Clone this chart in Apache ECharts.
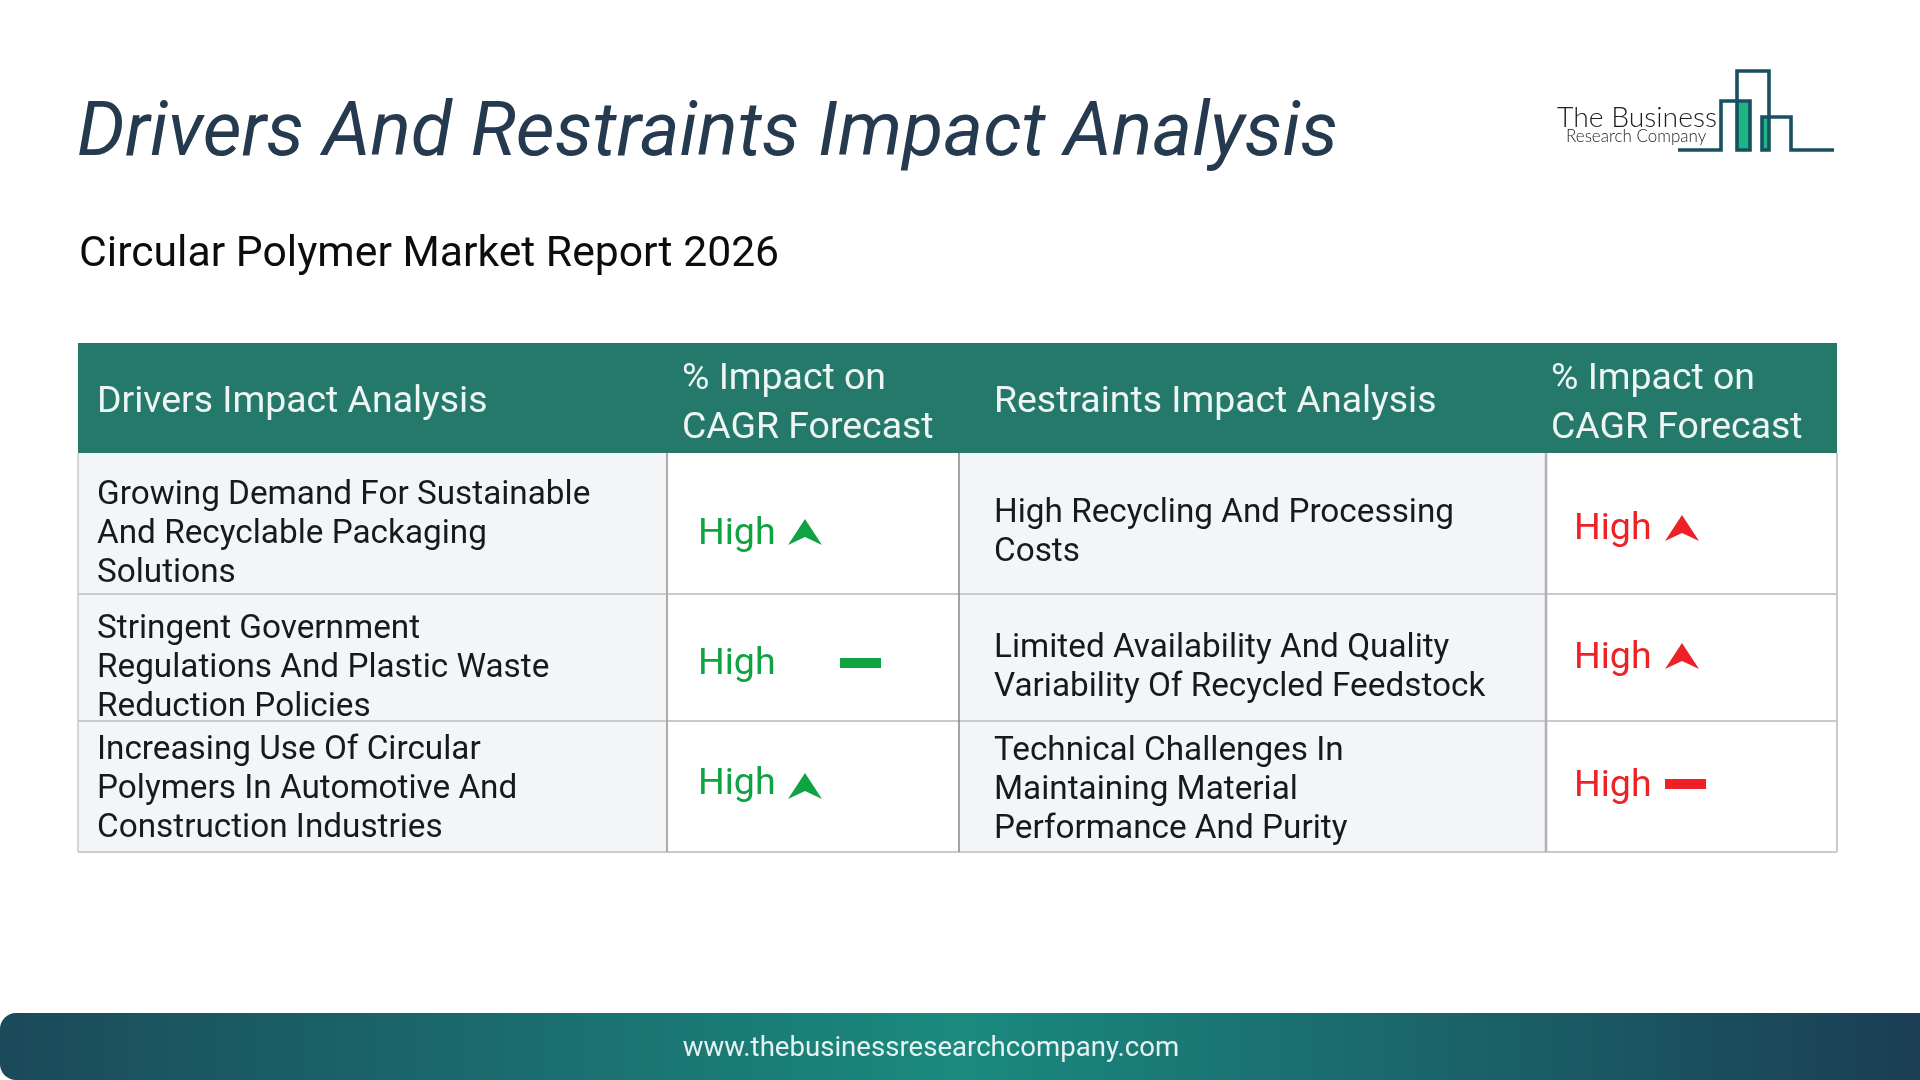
<!DOCTYPE html>
<html>
<head>
<meta charset="utf-8">
<title>Drivers And Restraints Impact Analysis</title>
<script src="https://cdn.jsdelivr.net/npm/echarts@6/dist/echarts.min.js"></script>
<style>
  html, body { margin: 0; padding: 0; background: #fff; }
  #main { width: 1920px; height: 1080px; }
</style>
</head>
<body>
<div id="main"></div>
<script>
var chartTitle = 'Drivers And Restraints Impact Analysis';
var chartSubtitle = 'Circular Polymer Market Report 2026';
var footerText = 'www.thebusinessresearchcompany.com';

var headers = ['Drivers Impact Analysis', '% Impact on\nCAGR Forecast', 'Restraints Impact Analysis', '% Impact on\nCAGR Forecast'];
var drivers = [
    'Growing Demand For Sustainable\nAnd Recyclable Packaging\nSolutions',
    'Stringent Government\nRegulations And Plastic Waste\nReduction Policies',
    'Increasing Use Of Circular\nPolymers In Automotive And\nConstruction Industries'
];
var driverImpact = ['High', 'High', 'High'];
var driverTrend = ['up', 'flat', 'up'];
var restraints = [
    'High Recycling And Processing\nCosts',
    'Limited Availability And Quality\nVariability Of Recycled Feedstock',
    'Technical Challenges In\nMaintaining Material\nPerformance And Purity'
];
var restraintImpact = ['High', 'High', 'High'];
var restraintTrend = ['up', 'up', 'flat'];

var colX = [78, 667, 959, 1546, 1837];
var rowY = [343, 453, 594, 721, 852];
var FONT = 'Roboto';
var GREEN = '#0fa341', RED = '#ee2127', GREY = '#c9cacc';

var els = [];

function rect(x, y, w, h, fill, r) {
    els.push({ type: 'rect', shape: { x: x, y: y, width: w, height: h, r: r || 0 }, style: { fill: fill }, silent: true });
}
function text(str, x, y, size, fill, extra) {
    var style = { text: str, x: x, y: y, fill: fill, fontFamily: FONT, fontSize: size, verticalAlign: 'middle', align: 'left' };
    for (var k in extra) style[k] = extra[k];
    els.push({ type: 'text', style: style, silent: true });
}
function line(x1, y1, x2, y2, color, w) {
    els.push({ type: 'line', shape: { x1: x1, y1: y1, x2: x2, y2: y2 }, style: { stroke: color, lineWidth: w }, silent: true });
}

// trend marks: notched arrow or flat dash
function trendMark(kind, x, y, color, dashX) {
    if (kind === 'up') {
        els.push({
            type: 'polygon',
            shape: { points: [[x, y + 13], [x + 17, y - 13], [x + 34, y + 13], [x + 17, y + 5]] },
            style: { fill: color }, silent: true
        });
    } else {
        rect(dashX, y - 5, 41, 10, color);
    }
}

// cell backgrounds
rect(colX[0], rowY[1], colX[1] - colX[0], rowY[4] - rowY[1], '#f3f5f7');
rect(colX[2], rowY[1], colX[3] - colX[2], rowY[4] - rowY[1], '#f3f5f7');

// grid lines
[2, 3, 4].forEach(function (i) { line(colX[0], rowY[i], colX[4], rowY[i], GREY, 2); });
line(colX[0], rowY[1], colX[0], rowY[4], GREY, 1.5);
line(colX[1], rowY[1], colX[1], rowY[4], '#a9abae', 2);
line(colX[2], rowY[1], colX[2], rowY[4], '#85878a', 1.5);
line(colX[3], rowY[1], colX[3], rowY[4], '#b0b2b6', 2.5);
line(colX[4], rowY[1], colX[4], rowY[4], GREY, 2);

// header band
rect(colX[0], rowY[0], colX[4] - colX[0], rowY[1] - rowY[0], '#25796b');
var headerX = [97, 682, 994, 1551];
headers.forEach(function (h, i) {
    text(h, headerX[i], i % 2 ? 404 : 403, 37.4, '#eef6f4', { lineHeight: 49 });
});

// driver rows
var driverCy = [535, 669, 790], driverHighY = [534.5, 665, 785], driverMarkY = [532, 663, 786];
drivers.forEach(function (d, i) {
    text(d, 97, driverCy[i], 33.3, '#161a1d', { lineHeight: 39 });
    text(driverImpact[i], 698, driverHighY[i], 37.5, GREEN);
    trendMark(driverTrend[i], 788, driverMarkY[i], GREEN, 840);
});

// restraint rows
var restraintCy = [533, 668, 791], restraintHighY = [530, 659, 787], restraintMarkY = [528, 656, 784];
restraints.forEach(function (d, i) {
    text(d, 994, restraintCy[i], 33.3, '#161a1d', { lineHeight: 39 });
    text(restraintImpact[i], 1574, restraintHighY[i], 37.5, RED);
    trendMark(restraintTrend[i], 1665, restraintMarkY[i], RED, 1665);
});

// logo
rect(1737, 101, 13, 49, '#1fb585');
rect(1763, 117, 6, 33, '#1fb585');
var logoLine = [
    [[1678, 150], [1721, 150], [1721, 101], [1750, 101], [1750, 150], [1737, 150], [1737, 71], [1769, 71], [1769, 150], [1762, 150], [1762, 117], [1791, 117], [1791, 150], [1834, 150]]
];
logoLine.forEach(function (p) {
    els.push({ type: 'polyline', shape: { points: p }, style: { stroke: '#17505e', lineWidth: 3.6, fill: null, lineJoin: 'miter' }, silent: true });
});
text('The Business', 1557, 118, 28.3, '#1b1d20', { fontFamily: 'Lato', fontWeight: 300 });
text('Research Company', 1566, 137, 17, '#1b1d20', { fontFamily: 'Lato', fontWeight: 300 });

// footer band
els.push({
    type: 'rect',
    shape: { x: 0, y: 1013, width: 1920, height: 67, r: [16, 0, 0, 16] },
    style: {
        fill: new echarts.graphic.LinearGradient(0, 0, 1, 0, [
            { offset: 0, color: '#1b4a5a' },
            { offset: 0.5, color: '#1a8a7f' },
            { offset: 1, color: '#1b3e54' }
        ])
    },
    silent: true
});
text(footerText, 931, 1049, 27.6, '#e6f2f0', { align: 'center' });

var myChart = echarts.init(document.getElementById('main'));
var option = {
    backgroundColor: '#ffffff',
    animation: false,
    title: [
        { text: chartTitle, left: 77, top: 136, padding: 0, textVerticalAlign: 'middle', textStyle: { fontFamily: FONT, fontStyle: 'italic', fontWeight: 400, fontSize: 75.5, color: '#25394f' } },
        { text: chartSubtitle, left: 79, top: 255, padding: 0, textVerticalAlign: 'middle', textStyle: { fontFamily: FONT, fontWeight: 400, fontSize: 42.7, color: '#0c0c0c' } }
    ],
    graphic: { elements: els }
};
myChart.setOption(option);
</script>
</body>
</html>
